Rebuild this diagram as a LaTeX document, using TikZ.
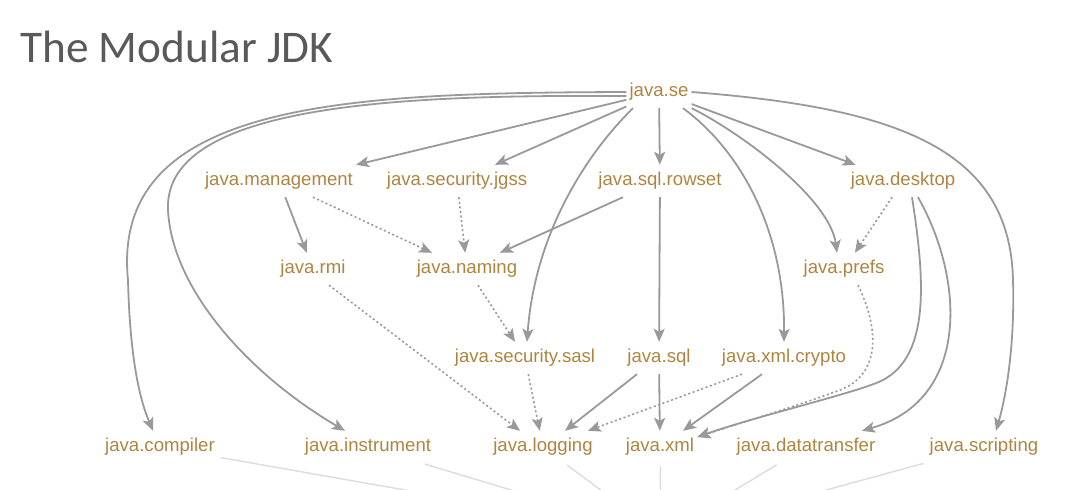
\documentclass[tikz,border=0pt]{standalone}
\usepackage{fontspec}
\setmainfont{Liberation Sans}
\newfontfamily\titlefont{Carlito}
\usetikzlibrary{arrows.meta}
\definecolor{modgold}{HTML}{AE8540}
\definecolor{edgegray}{HTML}{999999}
\definecolor{basegray}{HTML}{DCDCDC}
\definecolor{titlegray}{HTML}{595959}

\begin{document}
\begin{tikzpicture}[x=1pt, y=-1pt,
    module/.style={text=modgold, font=\fontsize{18.6}{20}\selectfont,
      inner xsep=3pt, inner ysep=7.25pt, text height=13.5pt, text depth=4pt},
    req/.style={draw=edgegray, line width=1.8pt,
      -{Stealth[length=13pt,width=11pt,inset=3pt]}},
    opt/.style={req, line width=1.6pt, dash pattern=on 2pt off 2.6pt},
    tobase/.style={draw=basegray, line width=1.4pt, shorten <=3pt}]
  \useasboundingbox (0,0) rectangle (1080,490);
  \clip (0,0) rectangle (1080,490);
  % Title
  \node[anchor=base west, inner sep=0pt, text=titlegray,
    font=\titlefont\fontsize{45.3}{48}\selectfont] (title) at (20,62) {The Modular JDK};
  % Modules
  \node[module] (se)        at (659,92)  {java.se};
  \node[module] (mgmt)      at (279,181) {java.management};
  \node[module] (jgss)      at (457,181) {java.security.jgss};
  \node[module] (rowset)    at (660,181) {java.sql.rowset};
  \node[module] (desktop)   at (903,181) {java.desktop};
  \node[module] (rmi)       at (313,269) {java.rmi};
  \node[module] (naming)    at (467,269) {java.naming};
  \node[module] (prefs)     at (844,269) {java.prefs};
  \node[module] (sasl)      at (525,358) {java.security.sasl};
  \node[module] (sql)       at (659,358) {java.sql};
  \node[module] (crypto)    at (784,358) {java.xml.crypto};
  \node[module] (compiler)  at (160,447) {java.compiler};
  \node[module] (instr)     at (368,447) {java.instrument};
  \node[module] (logging)   at (543,447) {java.logging};
  \node[module] (xml)       at (660,447) {java.xml};
  \node[module] (dtrans)    at (806,447) {java.datatransfer};
  \node[module] (scripting) at (984,447) {java.scripting};
  \coordinate (base) at (661,535);
  % java.se
  \draw[req] (se.west) .. controls (350,93) and (110,100) .. (128,280)
    .. controls (130,360) and (140,400) .. ([xshift=-7pt]compiler.north);
  \draw[req] ([yshift=-4pt]se.west) .. controls (420,95) and (163,100) .. (168,210)
    .. controls (172,290) and (250,375) .. ([xshift=-23pt]instr.north);
  \draw[req] (se) -- (mgmt.north east);
  \draw[req] (se) -- ([xshift=38pt]jgss.north);
  \draw[req] (se) -- (rowset);
  \draw[req] ([xshift=-26pt]se.south) .. controls (590,150) and (535,230) .. ([xshift=2pt]sasl.north);
  \draw[req] ([xshift=24pt]se.south) .. controls (740,150) and (785,230) .. (crypto.north);
  \draw[req] (se.south east) .. controls (745,135) and (830,200) .. ([xshift=-7pt]prefs.north);
  \draw[req] (se) -- ([xshift=8pt]desktop.north west);
  \draw[req] (se.east) .. controls (900,108) and (1010,150) .. (1013,280)
    .. controls (1015,350) and (1005,400) .. ([xshift=12pt]scripting.north);
  % second row
  \draw[req] (mgmt) -- (rmi);
  \draw[opt] ([xshift=34pt]mgmt.south) -- ([xshift=-35pt]naming.north);
  \draw[opt] (jgss) -- (naming);
  \draw[req] ([xshift=-37pt]rowset.south) -- ([xshift=33pt]naming.north);
  \draw[req] (rowset) -- (sql);
  \draw[opt] (desktop) -- (prefs);
  \draw[req] ([xshift=9pt]desktop.south) .. controls (925,280) and (930,355) .. (883,380)
    .. controls (860,392) and (760,415) .. (xml.15);
  \draw[req] ([xshift=15pt]desktop.south) .. controls (965,280) and (970,400) .. ([xshift=56pt]dtrans.north);
  % third row
  \draw[opt] ([xshift=16pt]rmi.south) -- ([xshift=-23pt]logging.north);
  \draw[opt] ([xshift=11pt]naming.south) -- ([xshift=-10pt]sasl.north);
  \draw[opt] ([xshift=14pt]prefs.south) .. controls (880,330) and (880,375) .. (840,390)
    .. controls (800,405) and (750,420) .. (xml.15);
  % fourth row
  \draw[opt] (sasl) -- (logging);
  \draw[req] ([xshift=-22pt]sql.south) -- ([xshift=22pt]logging.north);
  \draw[req] (sql) -- (xml);
  \draw[opt] ([xshift=-42pt]crypto.south) -- ([xshift=45pt]logging.north);
  \draw[req] ([xshift=-22pt]crypto.south) -- ([xshift=23pt]xml.north);
  % down to java.base
  \foreach \m in {compiler,instr,logging,xml,dtrans,scripting}
    \draw[tobase] (\m) -- (base);
\end{tikzpicture}
\end{document}
